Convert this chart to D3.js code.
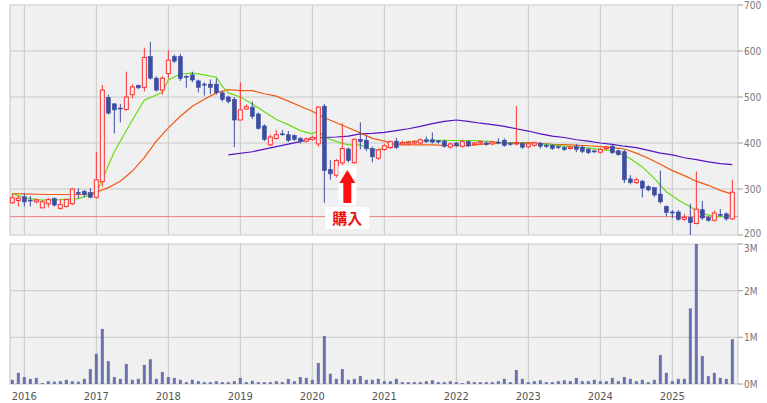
<!DOCTYPE html>
<html><head><meta charset="utf-8">
<script src="https://cdn.jsdelivr.net/npm/d3@7"></script>
<style>body{margin:0;background:#fff}svg{display:block;font-family:"DejaVu Sans Condensed","DejaVu Sans",sans-serif}</style>
</head><body><svg id="c" width="767" height="403"></svg>
<script>
// Monthly candles Nov 2015 .. Nov 2025 (index 0..120)
const open = [270,275,283,276,272,259,268,279,258,262,268,293,295,292,282,316,499,485,476,473,505,525,521,588,541,515,551,588,588,545,548,535,528,528,528,509,500,495,450,474,478,463,437,396,410,420,418,416,410,404,408,398,480,342,330,357,387,357,408,406,388,367,
386,390,404,398,398,400,400,407,407,405,404,391,400,393,403,397,400,400,398,402,406,399,398,399,392,395,399,395,395,392,390,388,392,391,386,383,380,388,393,383,381,322,314,317,305,303,289,262,250,250,234,238,225,255,238,232,245,246,235];
const close = [281,280,272,275,276,272,277,265,266,277,300,290,288,282,320,515,465,472,474,500,522,520,586,541,515,541,580,578,540,543,537,521,526,521,510,495,490,450,472,479,458,432,408,413,418,418,406,408,403,409,412,478,340,333,362,388,362,408,403,388,370,385,
394,403,390,401,401,403,407,403,402,402,393,398,394,403,394,400,403,397,402,400,395,397,400,391,398,400,393,393,388,390,386,391,386,382,379,381,386,391,379,375,320,314,320,302,298,287,272,249,248,234,238,227,256,237,232,248,244,235,293];
const high = [290,285,290,285,279,276,280,282,278,279,302,302,298,302,381,526,505,487,485,555,528,527,607,620,545,545,601,592,594,548,555,538,532,538,540,512,503,500,532,484,490,466,441,418,428,428,426,419,413,412,416,480,485,363,365,443,390,410,445,415,392,388,
398,405,411,405,405,406,410,414,423,406,407,401,402,406,406,402,405,404,405,410,410,401,480,402,401,403,402,398,398,394,393,394,398,394,390,385,389,394,398,386,385,330,324,320,308,303,340,264,254,254,246,268,338,274,241,253,256,249,320];
const low = [268,262,262,262,269,259,260,262,255,260,265,280,282,280,279,305,462,421,445,470,497,517,512,538,512,505,540,574,535,520,532,510,503,506,505,490,486,391,450,472,452,429,404,393,407,416,402,404,399,401,405,392,270,320,325,352,358,355,386,382,358,363,
383,387,387,396,396,398,397,400,399,399,390,388,391,390,391,394,397,394,395,397,392,394,395,387,389,392,388,389,385,387,383,386,380,378,376,378,377,385,376,372,313,310,311,282,295,283,268,240,237,231,231,200,223,233,229,229,240,231,233];
const volume = [90,240,150,110,130,20,60,50,60,90,60,50,110,320,650,1180,490,150,110,430,90,110,410,530,110,260,150,130,90,40,90,60,40,40,60,40,40,60,130,40,70,40,40,40,60,40,110,60,150,130,90,450,1030,220,110,320,90,110,170,90,90,110,60,60,110,40,40,40,40,60,80,40,40,60,40,20,60,40,40,40,40,60,110,40,300,110,40,60,80,40,40,60,80,60,130,60,60,90,60,60,130,60,150,110,60,90,40,90,620,240,60,110,110,1620,3000,600,170,240,130,110,960];
// moving averages read at sampled months: [index, value]
const maShort = [[0,290],[2,281],[5,276],[8,277],[11,279],[14,291],[17,381],[20,450],[22,493],[25,510],[26,537],[28,550],[30,552],[32,548],[34,543],[35,523],[36,509],[38,500],[40,485],[42,468],[44,451],[46,440],[48,427],[50,420],[51,427],[52,413],[54,403],[56,396],[58,396],[60,385],[61,385],[63,392],[64,399],[66,403],[69,405],[72,406],[74,405],[77,405],[80,403],[82,400],[85,399],[88,398],[90,396],[93,392],[96,389],[98,386],[100,383],[102,373],[103,366],[105,348],[107,323],[109,294],[111,276],[113,261],[115,247],[117,240],[119,240],[120,245]];
const maMid = [[0,290],[6,288],[12,288],[14,293],[16,303],[18,317],[20,339],[22,368],[24,404],[26,433],[28,458],[30,480],[32,495],[34,509],[36,516],[38,514],[40,514],[42,507],[44,502],[46,491],[48,480],[50,469],[52,455],[54,444],[56,433],[58,422],[60,410],[62,404],[64,396],[70,396],[74,394],[76,394],[78,397],[80,399],[82,401],[86,401],[88,399],[90,397],[93,396],[96,394],[98,392],[100,390],[102,387],[104,378],[106,367],[108,354],[110,340],[112,329],[114,317],[116,308],[118,297],[120,289]];
const maLong = [[36,374],[40,381],[44,392],[48,403],[50,410],[52,412],[54,413],[56,415],[58,420],[60,421],[62,423],[64,427],[66,431],[68,436],[70,442],[72,447],[74,450],[76,447],[78,443],[80,440],[82,436],[84,431],[86,426],[88,420],[90,415],[92,412],[94,407],[96,404],[98,400],[100,397],[102,393],[104,390],[106,384],[108,378],[110,374],[112,368],[114,364],[116,359],[118,355],[120,353]];
const years = ["2016","2017","2018","2019","2020","2021","2022","2023","2024","2025"];
const priceTicks = [200,300,400,500,600,700];
const volTicks = [0,1000,2000,3000];
const volLabels = ["0M","1M","2M","3M"];
const buyLine = 240;
const buyIndex = 56;

const svg = d3.select("#c");
const L=10,R=738, T1=5,B1=235, T2=244,B2=384;
const x = d3.scaleLinear().domain([2,110]).range([24.33,672.33]);
const y = d3.scaleLinear().domain([200,700]).range([B1,T1]);
const yv = d3.scaleLinear().domain([0,3000]).range([B2,T2]);
const grid="#c8c8c8";
[[T1,B1],[T2,B2]].forEach(([t,b])=>svg.append("rect").attr("x",L).attr("y",t).attr("width",R-L).attr("height",b-t).attr("fill","#f0f0f0").attr("stroke",grid));
years.forEach((yr,k)=>{const xx=x(2+12*k);
  [[T1,B1],[T2,B2]].forEach(([t,b])=>svg.append("line").attr("x1",xx).attr("x2",xx).attr("y1",t).attr("y2",b).attr("stroke",grid));
  svg.append("text").attr("x",xx).attr("y",400).attr("text-anchor","middle").attr("font-size",11).attr("fill","#555").text(yr);});
priceTicks.forEach(p=>{const yy=y(p);
  if(p>200&&p<700) svg.append("line").attr("x1",L).attr("x2",R).attr("y1",yy).attr("y2",yy).attr("stroke",grid);
  svg.append("line").attr("x1",R).attr("x2",R+5).attr("y1",yy).attr("y2",yy).attr("stroke","#999");
  svg.append("text").attr("x",R+6).attr("y",yy+(p===200?2:4)).attr("font-size",10).attr("fill","#777").text(p);});
volTicks.forEach((v,k)=>{const yy=yv(v);
  if(v>0&&v<3000) svg.append("line").attr("x1",L).attr("x2",R).attr("y1",yy).attr("y2",yy).attr("stroke",grid);
  svg.append("line").attr("x1",R).attr("x2",R+5).attr("y1",yy).attr("y2",yy).attr("stroke","#999");
  svg.append("text").attr("x",R+6).attr("y",yy+(v===3000?8:4)).attr("font-size",10).attr("fill","#777").text(volLabels[k]);});
// buy line
svg.append("line").attr("x1",L).attr("x2",R).attr("y1",y(buyLine)).attr("y2",y(buyLine)).attr("stroke","#f08080");
// volume
svg.selectAll(".v").data(volume).join("rect").attr("x",(d,i)=>x(i)-1.5).attr("width",3)
  .attr("y",d=>yv(d)).attr("height",d=>B2-yv(d)).attr("fill","#6a72b0");
// MAs
const line=d3.line().x(d=>x(d[0])).y(d=>y(d[1]));
[[maLong,"#5a10c0"],[maMid,"#ee5a10"],[maShort,"#66dd10"]].forEach(([d,c])=>
  svg.append("path").attr("d",line(d)).attr("fill","none").attr("stroke",c).attr("stroke-width",1.2));
// candles
const g=svg.append("g");
open.forEach((o,i)=>{const c=close[i],up=c>=o,col=up?"#ff3030":"#3d4ea0",xx=x(i);
  g.append("line").attr("x1",xx).attr("x2",xx).attr("y1",y(high[i])).attr("y2",y(low[i])).attr("stroke",col).attr("stroke-width",1);
  const top=y(Math.max(o,c)),h=Math.max(1,Math.abs(y(o)-y(c)));
  g.append("rect").attr("x",xx-2).attr("width",4).attr("y",top).attr("height",h)
   .attr("fill",up?"#f0f0f0":col).attr("stroke",col).attr("stroke-width",up?1:0.6);});
// buy arrow
const ax=x(buyIndex)-1;
svg.append("rect").attr("x",ax-9).attr("y",166).attr("width",18).attr("height",39).attr("fill","#fff");
svg.append("path").attr("d",`M${ax-8},183 L${ax},170 L${ax+8},183 L${ax+4},183 L${ax+4},203 L${ax-4},203 L${ax-4},183 Z`).attr("fill","#ff1010");
svg.append("rect").attr("x",ax-22).attr("y",207).attr("width",44).attr("height",22).attr("fill","#fff");
svg.append("text").attr("x",ax).attr("y",224).attr("text-anchor","middle").attr("font-size",15).attr("font-weight","bold")
  .attr("font-family","Noto Sans CJK JP").attr("fill","#ee1010").text("購入");
</script></body></html>
